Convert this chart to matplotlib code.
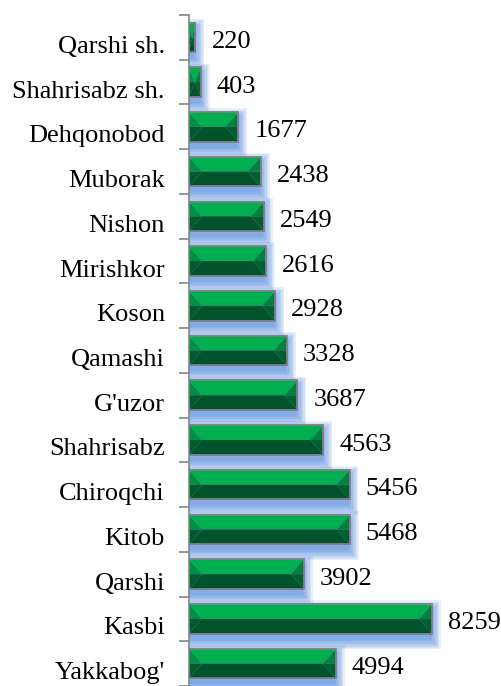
import matplotlib
matplotlib.use("Agg")
import matplotlib.pyplot as plt
from matplotlib.patches import Polygon, Rectangle
from matplotlib.transforms import ScaledTranslation
import numpy as np

categories = ["Qarshi sh.", "Shahrisabz sh.", "Dehqonobod", "Muborak", "Nishon",
              "Mirishkor", "Koson", "Qamashi", "G'uzor", "Shahrisabz",
              "Chiroqchi", "Kitob", "Qarshi", "Kasbi", "Yakkabog'"]
values = [220, 403, 1677, 2438, 2549, 2616, 2928, 3328, 3687, 4563,
          5456, 5468, 3902, 8259, 4994]

W, H, DPI = 502, 686, 100
fig = plt.figure(figsize=(W / DPI, H / DPI), dpi=DPI)
ax_left = 189 / W
ax = fig.add_axes([ax_left, 0.0, 1 - ax_left, 1 - 15 / H])

xmax = (W - 189) / 0.02942
ax.set_xlim(0, xmax)
ax.set_ylim(14.46, -0.5)

# pixel -> data conversions
px_x = xmax / (W - 189)
px_y = (14.96) / (H - 15)

bar_h = 0.66
light = "#00B050"
dark = "#00532A"
left_up = "#008E45"
left_lo = "#005A2C"
right_up = "#00813E"
right_lo = "#005F2F"
edge = "#808080"

for i, v in enumerate(values):
    top = i - bar_h / 2
    bot = i + bar_h / 2
    mid = i
    # shadow (blurred blue), offset downward
    for k in range(8):
        grow = k * 1.4
        ax.add_patch(Rectangle((0, top + 6 * px_y - grow * px_y),
                               max(v - 1 * px_x, 0) + grow * px_x,
                               bar_h + 2 * grow * px_y,
                               facecolor="#4A84DE", edgecolor="none",
                               alpha=0.13, zorder=1))
    b = min(13 * px_x, v / 2)
    x0, x1 = 0, v
    ax.add_patch(Polygon([(x0, top), (x1, top), (x1 - b, mid), (x0 + b, mid)],
                         closed=True, facecolor=light, edgecolor="none", zorder=3))
    ax.add_patch(Polygon([(x0, bot), (x1, bot), (x1 - b, mid), (x0 + b, mid)],
                         closed=True, facecolor=dark, edgecolor="none", zorder=3))
    ax.add_patch(Polygon([(x0, top), (x0 + b, mid), (x0, mid)],
                         closed=True, facecolor=left_up, edgecolor="none", zorder=3))
    ax.add_patch(Polygon([(x0, mid), (x0 + b, mid), (x0, bot)],
                         closed=True, facecolor=left_lo, edgecolor="none", zorder=3))
    ax.add_patch(Polygon([(x1, top), (x1 - b, mid), (x1, mid)],
                         closed=True, facecolor=right_up, edgecolor="none", zorder=3))
    ax.add_patch(Polygon([(x1, mid), (x1 - b, mid), (x1, bot)],
                         closed=True, facecolor=right_lo, edgecolor="none", zorder=3))
    ax.add_patch(Rectangle((0, top), v, bar_h, facecolor="none",
                           edgecolor=edge, linewidth=1.3, zorder=4))
    ax.annotate(str(v), xy=(v, i), xytext=(16 * 72 / DPI, -3.3),
                textcoords="offset points", va="center", ha="left",
                fontsize=19, family="Liberation Serif", color="black",
                annotation_clip=False)

ax.set_yticks(range(len(categories)))
ax.set_yticklabels(categories, fontsize=19, family="Liberation Serif")
ax.set_yticks(np.arange(-0.5, len(categories), 1.0), minor=True)
ax.tick_params(axis="y", which="major", length=0, pad=24 * 72 / DPI)
ax.tick_params(axis="y", which="minor", length=7, width=1.2, color="#868686")
shift = ScaledTranslation(0, -7 / DPI, fig.dpi_scale_trans)
for lab in ax.get_yticklabels():
    lab.set_transform(lab.get_transform() + shift)
ax.set_xticks([])
for s in ["top", "right", "bottom"]:
    ax.spines[s].set_visible(False)
ax.spines["left"].set_color("#868686")
ax.spines["left"].set_linewidth(1.2)
ax.patch.set_alpha(0)

fig.savefig("out.png", dpi=DPI)
